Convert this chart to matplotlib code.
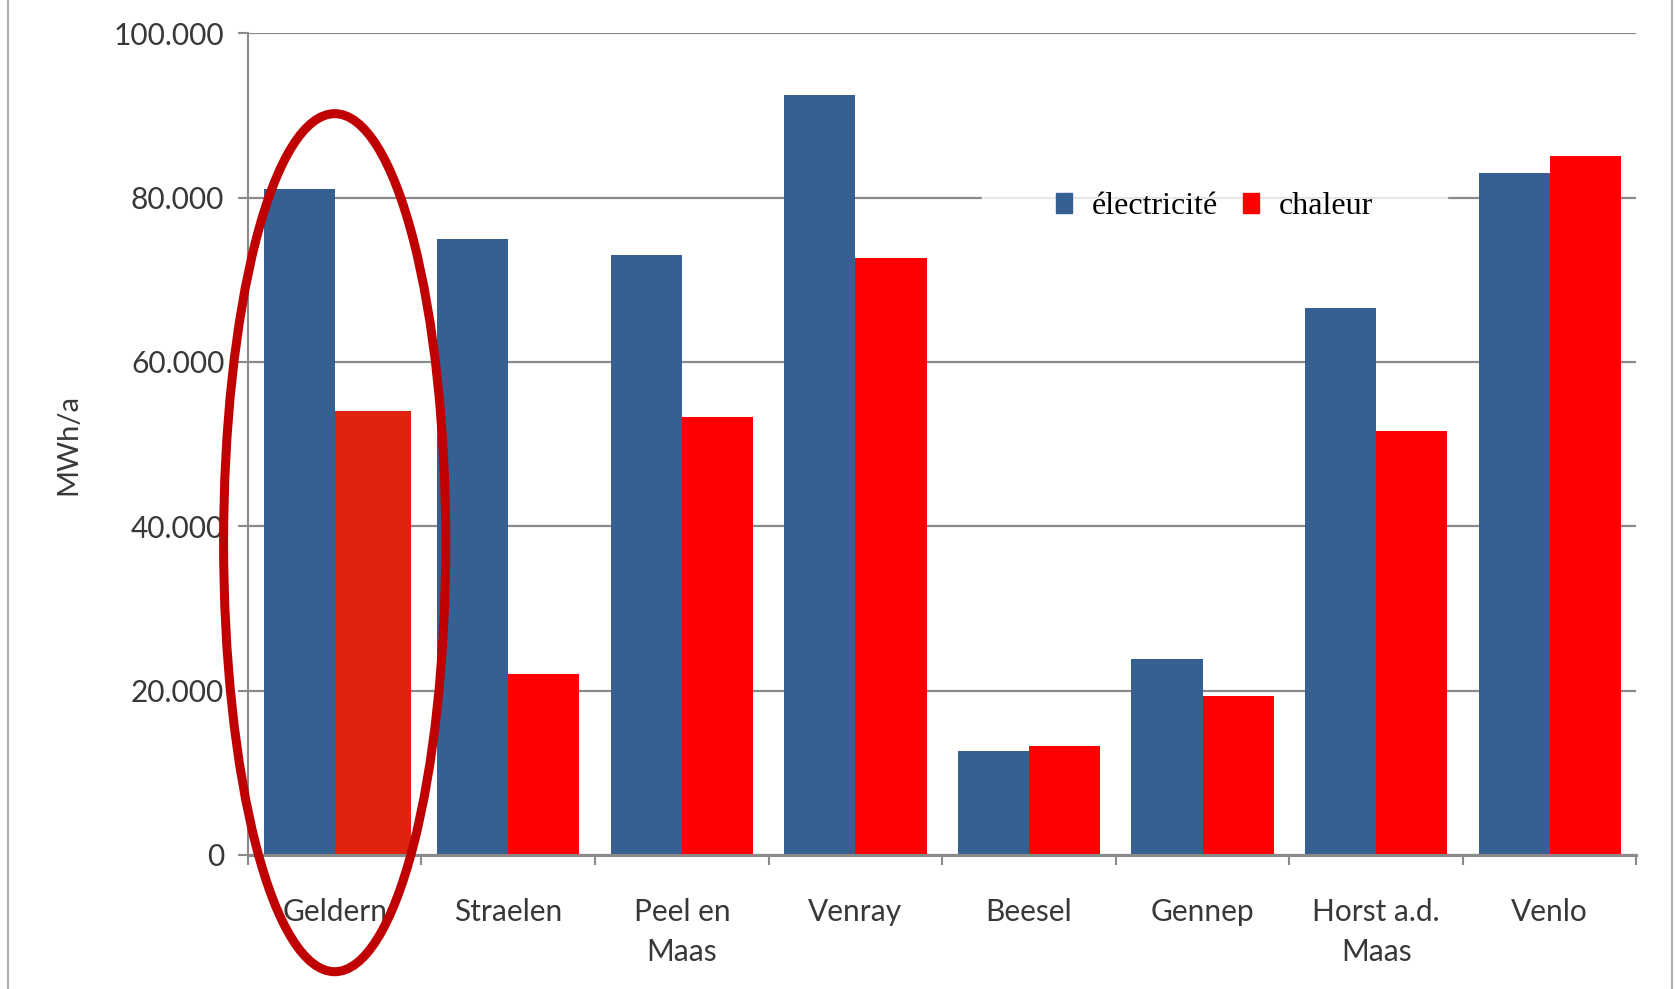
import matplotlib
matplotlib.use("Agg")
import matplotlib.pyplot as plt
import numpy as np
from matplotlib.patches import Ellipse, Rectangle
from matplotlib.lines import Line2D

categories = ["Geldern", "Straelen", "Peel en\nMaas", "Venray", "Beesel", "Gennep", "Horst a.d.\nMaas", "Venlo"]
electricite = [81000, 75000, 73000, 92500, 12600, 23800, 66500, 83000]
chaleur = [54000, 22000, 53300, 72600, 13300, 19300, 51600, 85000]
yticks = [0, 20000, 40000, 60000, 80000, 100000]
ytick_labels = ["0", "20.000", "40.000", "60.000", "80.000", "100.000"]

blue = "#376092"
red = "#FF0000"
red_highlight = "#E0230F"
grid_col = "#8A8A8A"
txt_col = "#383838"

fig = plt.figure(figsize=(16.75, 9.89), dpi=100)
ax = fig.add_axes([0.148, 0.1355, 0.829, 0.831])

x = np.arange(len(categories))
bw = 0.41
ax.bar(x, electricite, width=bw, align="edge", color=blue, zorder=2)
# shift blue bars to the left of the category centre
for p in ax.patches:
    p.set_x(p.get_x() - bw)
red_cols = [red_highlight] + [red] * (len(categories) - 1)
red_w = [0.44] + [bw] * (len(categories) - 1)
ax.bar(x, chaleur, width=red_w, align="edge", color=red_cols, zorder=2)

ax.set_xlim(-0.5, len(categories) - 0.5)
ax.set_ylim(0, 100000)
ax.set_yticks(yticks)
ax.set_yticklabels(ytick_labels, fontsize=21.5, color=txt_col, family="Lato")
ax.yaxis.grid(True, color=grid_col, linewidth=1.6, zorder=0)
ax.set_axisbelow(True)

ax.set_xticks(x)
ax.set_xticklabels(categories, fontsize=21.5, color=txt_col, family="Lato", linespacing=1.5)
ax.set_xticks(np.arange(-0.5, len(categories), 1.0), minor=True)
ax.tick_params(axis="x", which="major", length=0, pad=31)
ax.tick_params(axis="x", which="minor", length=7, width=1.5, color=grid_col, direction="out")
ax.tick_params(axis="y", length=7, width=1.5, color=grid_col, direction="out", pad=10)

for s in ["top", "right"]:
    ax.spines[s].set_visible(False)
ax.spines["left"].set_color(grid_col)
ax.spines["left"].set_linewidth(1.5)
ax.spines["bottom"].set_color(grid_col)
ax.spines["bottom"].set_linewidth(2.2)

ax.set_ylabel("MWh/a", fontsize=21, color=txt_col, family="Lato", labelpad=23)

handles = [Rectangle((0, 0), 1, 1, color=blue), Rectangle((0, 0), 1, 1, color=red)]
leg = ax.legend(handles, ["électricité", "chaleur"], ncol=2, loc="center",
                bbox_to_anchor=(0.696, 0.789), frameon=True, fancybox=False,
                prop={"family": "Liberation Serif", "size": 23},
                handlelength=0.5, handleheight=0.6, handletextpad=0.62,
                columnspacing=0.8, borderpad=2.3)
leg.get_frame().set_facecolor("white")
leg.get_frame().set_edgecolor("white")
leg.set_zorder(3)

# highlight ellipse around Geldern
ell = Ellipse((0, 38000), width=1.28, height=104400, fill=False,
              edgecolor="#C00000", linewidth=6.5, clip_on=False, zorder=5)
ax.add_patch(ell)

# outer chart frame (left and right edges)
fig.add_artist(Line2D([0.0045, 0.0045], [0, 1], transform=fig.transFigure, color="#B0B0B0", linewidth=1.5))
fig.add_artist(Line2D([0.9985, 0.9985], [0, 1], transform=fig.transFigure, color="#B0B0B0", linewidth=1.5))

fig.savefig("out.png", dpi=100, facecolor="white")
